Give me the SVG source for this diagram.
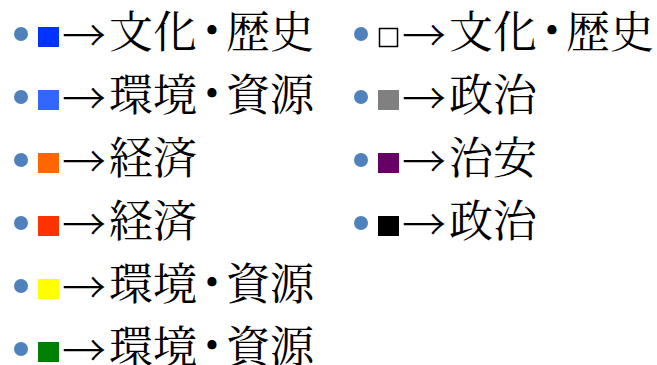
<svg xmlns="http://www.w3.org/2000/svg" width="657" height="365" viewBox="0 0 657 365">
<style>
.b{fill:#4f81bd}
.t{font-family:"Noto Serif CJK JP","Noto Sans CJK JP",serif;font-size:44px;fill:#000}
.a{font-family:"Noto Sans CJK JP","DejaVu Sans",sans-serif;font-size:44px;font-weight:300;fill:#000}
.d{text-anchor:middle}
</style>
<rect width="657" height="365" fill="#fff"/>
<g id="item-l1">
<circle class="b" cx="21" cy="34" r="7"/>
<rect x="38" y="27" width="21" height="20" fill="#0033ff"/>
<text class="a" x="62" y="52">→</text>
<text class="t" y="48"><tspan x="109">文化</tspan><tspan class="d" x="212" dy="-3">•</tspan><tspan x="226" dy="3">歴史</tspan></text>
</g>
<g id="item-l2">
<circle class="b" cx="21" cy="97" r="7"/>
<rect x="38" y="90" width="21" height="20" fill="#3366ff"/>
<text class="a" x="62" y="115">→</text>
<text class="t" y="111"><tspan x="109">環境</tspan><tspan class="d" x="212" dy="-3">•</tspan><tspan x="226" dy="3">資源</tspan></text>
</g>
<g id="item-l3">
<circle class="b" cx="21" cy="160" r="7"/>
<rect x="38" y="153" width="21" height="20" fill="#ff6600"/>
<text class="a" x="62" y="178">→</text>
<text class="t" x="109" y="174">経済</text>
</g>
<g id="item-l4">
<circle class="b" cx="21" cy="223" r="7"/>
<rect x="38" y="216" width="21" height="20" fill="#ff3300"/>
<text class="a" x="62" y="241">→</text>
<text class="t" x="109" y="237">経済</text>
</g>
<g id="item-l5">
<circle class="b" cx="21" cy="286" r="7"/>
<rect x="38" y="279" width="21" height="20" fill="#ffff00"/>
<text class="a" x="62" y="304">→</text>
<text class="t" y="300"><tspan x="109">環境</tspan><tspan class="d" x="212" dy="-3">•</tspan><tspan x="226" dy="3">資源</tspan></text>
</g>
<g id="item-l6">
<circle class="b" cx="21" cy="349" r="7"/>
<rect x="38" y="342" width="21" height="20" fill="#008000"/>
<text class="a" x="62" y="367">→</text>
<text class="t" y="363"><tspan x="109">環境</tspan><tspan class="d" x="212" dy="-3">•</tspan><tspan x="226" dy="3">資源</tspan></text>
</g>
<g id="item-r1">
<circle class="b" cx="361" cy="34" r="7"/>
<rect x="379.5" y="28.5" width="18" height="18" fill="#fff" stroke="#000" stroke-width="1.5"/>
<text class="a" x="402" y="52">→</text>
<text class="t" y="48"><tspan x="449">文化</tspan><tspan class="d" x="552" dy="-3">•</tspan><tspan x="566" dy="3">歴史</tspan></text>
</g>
<g id="item-r2">
<circle class="b" cx="361" cy="97" r="7"/>
<rect x="378" y="90" width="21" height="20" fill="#808080"/>
<text class="a" x="402" y="115">→</text>
<text class="t" x="449" y="111">政治</text>
</g>
<g id="item-r3">
<circle class="b" cx="361" cy="160" r="7"/>
<rect x="378" y="153" width="21" height="20" fill="#660066"/>
<text class="a" x="402" y="178">→</text>
<text class="t" x="449" y="174">治安</text>
</g>
<g id="item-r4">
<circle class="b" cx="361" cy="223" r="7"/>
<rect x="378" y="216" width="21" height="20" fill="#000"/>
<text class="a" x="402" y="241">→</text>
<text class="t" x="449" y="237">政治</text>
</g>
<g id="connectors"/>
</svg>
